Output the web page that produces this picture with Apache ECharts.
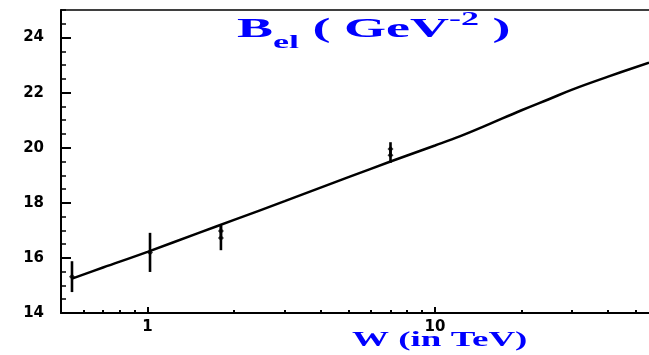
<!DOCTYPE html>
<html><head><meta charset="utf-8">
<script src="https://cdn.jsdelivr.net/npm/echarts@6/dist/echarts.min.js"></script>
<style>html,body{margin:0;padding:0;background:#fff}#c{width:649px;height:355px}</style>
</head><body><div id="c"></div>
<script>
// Curve: B_el (GeV^-2) vs W (TeV)
const curveW = [0.546, 0.7, 1, 1.5, 2, 3, 5, 7, 10, 12.25, 15, 20, 25, 30, 40, 55.5];
const curveB = [15.25, 15.65, 16.22, 16.90, 17.38, 18.06, 18.93, 19.5, 20.08, 20.42, 20.80, 21.36, 21.77, 22.11, 22.58, 23.09];
// Data points with errors
const pointW = [0.546, 1.02, 1.8, 1.8, 7, 7];
const pointB = [15.32, 16.2, 16.98, 16.72, 19.95, 19.73];
const pointErr = [0.56, 0.71, 0.25, 0.44, 0.25, 0.28];
// Ticks
const yLabelTicks = [14, 16, 18, 20, 22, 24];
const xMajorTicks = [1, 10];
const xMinorTicks = [0.6, 0.7, 0.8, 0.9, 2, 3, 4, 5, 6, 7, 8, 9, 20, 30, 40, 50];
const xMin = 0.5, xMax = 55.5, yMin = 14, yMax = 25;

const chart = echarts.init(document.getElementById('c'), null, {renderer: 'canvas'});
const labelFont = {color: '#000', fontFamily: 'DejaVu Sans', fontWeight: 'bold', fontSize: 15};
const blue = '#0000ff';
const option = {
  animation: false,
  backgroundColor: '#fff',
  grid: {left: 61, right: 0, top: 10, bottom: 42},
  xAxis: [
    {type: 'log', logBase: 10, min: xMin, max: xMax, position: 'bottom',
     axisLine: {show: true, lineStyle: {color: '#000', width: 2}},
     axisTick: {show: true, inside: true, length: 6, customValues: xMajorTicks, lineStyle: {color: '#000', width: 2}},
     axisLabel: Object.assign({customValues: xMajorTicks, margin: 7, formatter: v => String(v)}, labelFont),
     splitLine: {show: false}, minorTick: {show: false}},
    {type: 'log', logBase: 10, min: xMin, max: xMax, position: 'bottom',
     axisLine: {show: false},
     axisTick: {show: true, inside: true, length: 3, customValues: xMinorTicks, lineStyle: {color: '#000', width: 2}},
     axisLabel: {show: false}, splitLine: {show: false}},
    {type: 'log', logBase: 10, min: xMin, max: xMax, position: 'top',
     axisLine: {show: true, lineStyle: {color: '#000', width: 1.5}},
     axisTick: {show: false}, axisLabel: {show: false}, splitLine: {show: false}}
  ],
  yAxis: [
    {type: 'value', min: yMin, max: yMax, interval: 2, position: 'left',
     axisLine: {show: true, lineStyle: {color: '#000', width: 2}},
     axisTick: {show: true, inside: true, length: 10, customValues: yLabelTicks, lineStyle: {color: '#000', width: 2}},
     axisLabel: Object.assign({customValues: yLabelTicks, margin: 17}, labelFont),
     splitLine: {show: false}},
    {type: 'value', min: yMin, max: yMax, interval: 0.5, position: 'left',
     axisLine: {show: false},
     axisTick: {show: true, inside: true, length: 5, lineStyle: {color: '#000', width: 1.5}},
     axisLabel: {show: false}, splitLine: {show: false}}
  ],
  series: [
    {type: 'line', xAxisIndex: 0, yAxisIndex: 0, smooth: 0.4, showSymbol: false,
     lineStyle: {color: '#000', width: 2.5},
     data: curveW.map((w, i) => [w, curveB[i]])},
    {type: 'custom', xAxisIndex: 0, yAxisIndex: 0,
     encode: {x: 0, y: 1},
     data: pointW.map((w, i) => [w, pointB[i], pointErr[i]]),
     renderItem: function (params, api) {
       const w = api.value(0), b = api.value(1), e = api.value(2);
       const top = api.coord([w, b + e]);
       const bot = api.coord([w, b - e]);
       return {type: 'line', shape: {x1: top[0], y1: top[1], x2: bot[0], y2: bot[1]},
               style: {stroke: '#000', lineWidth: 2.6}};
     }},
    {type: 'scatter', xAxisIndex: 0, yAxisIndex: 0, symbol: 'diamond', symbolSize: [6, 6],
     itemStyle: {color: '#000'},
     data: pointW.map((w, i) => [w, pointB[i]])}
  ],
  graphic: [
    {type: 'text', x: 237, y: 10, scaleX: 2.0, silent: true,
     style: {
       text: '{b|B}{s|el}{b| ( GeV}{p|-2}{b| )}',
       fill: blue, verticalAlign: 'top',
       rich: {
         b: {fill: blue, fontFamily: 'Liberation Serif', fontWeight: 'bold', fontSize: 27, lineHeight: 27, padding: [7, 0, 0, 0], verticalAlign: 'top'},
         s: {fill: blue, fontFamily: 'Liberation Serif', fontWeight: 'bold', fontSize: 18, lineHeight: 18, padding: [24, 0, 0, 0], verticalAlign: 'top'},
         p: {fill: blue, fontFamily: 'Liberation Serif', fontWeight: 'bold', fontSize: 18, lineHeight: 18, padding: [1, 0, 0, 0], verticalAlign: 'top'}
       }
     }},
    {type: 'text', x: 352, y: 331, scaleX: 1.85, silent: true,
     style: {text: 'W (in TeV)', fill: blue, verticalAlign: 'top',
             font: 'bold 20px "Liberation Serif"'}}
  ]
};
chart.setOption(option);
</script>
</body></html>
